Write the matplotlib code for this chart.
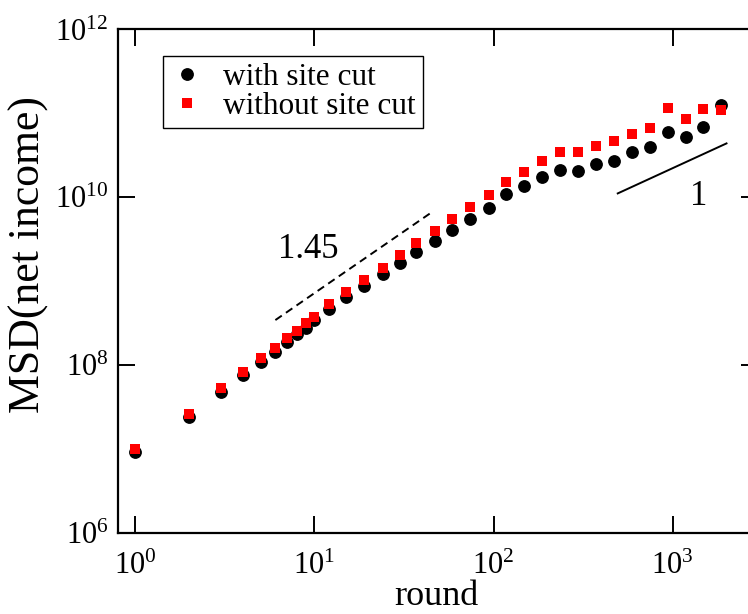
import matplotlib
matplotlib.use("Agg")
import matplotlib.pyplot as plt
from matplotlib.ticker import FixedLocator, LogFormatterMathtext, NullLocator

# serif, Times-like look
plt.rcParams['font.family'] = ['Liberation Serif', 'DejaVu Serif']
plt.rcParams['mathtext.fontset'] = 'custom'
plt.rcParams['mathtext.rm'] = 'Liberation Serif'
plt.rcParams['mathtext.it'] = 'Liberation Serif:italic'

# rounds (log-binned)
rounds = [1, 2, 3, 4, 5, 6, 7, 8, 9, 10, 12, 15, 19, 24, 30, 37, 47, 59, 74, 94,
          118, 148, 187, 235, 296, 373, 470, 592, 745, 938, 1182, 1488, 1874]

# MSD of net income, with site cut
msd_cut = [9.2e6, 2.42e7, 4.8e7, 7.6e7, 1.09e8, 1.44e8, 1.86e8, 2.32e8, 2.77e8, 3.43e8,
           4.6e8, 6.5e8, 8.7e8, 1.2e9, 1.65e9, 2.23e9, 3.0e9, 4.06e9, 5.5e9, 7.35e9,
           1.09e10, 1.37e10, 1.75e10, 2.14e10, 2.08e10, 2.48e10, 2.72e10, 3.48e10, 3.99e10,
           6.03e10, 5.25e10, 6.8e10, 1.25e11]

# MSD of net income, without site cut
msd_nocut = [9.9e6, 2.6e7, 5.35e7, 8.3e7, 1.2e8, 1.58e8, 2.07e8, 2.56e8, 3.13e8, 3.75e8,
             5.32e8, 7.33e8, 1.03e9, 1.45e9, 2.04e9, 2.86e9, 3.97e9, 5.48e9, 7.69e9, 1.06e10,
             1.53e10, 2.01e10, 2.72e10, 3.48e10, 3.48e10, 4.06e10, 4.67e10, 5.75e10, 6.61e10,
             1.16e11, 8.45e10, 1.12e11, 1.11e11]

# guide lines (slope 1.45 and slope 1)
guide145_x = [6.05, 44.2]
guide145_y = [3.43e8, 6.41e9]
guide1_x = [494, 2000]
guide1_y = [1.11e10, 4.38e10]

# tick positions
xticks = [1, 10, 100, 1000]
yticks = [1e6, 1e8, 1e10, 1e12]

fig = plt.figure(figsize=(7.48, 6.14), dpi=100)
ax = fig.add_axes([0.1578, 0.1324, 0.8556, 0.8196])

ax.plot(rounds, msd_cut, 'o', color='black', markersize=8.2, label='with site cut')
ax.plot(rounds, msd_nocut, 's', color='red', markersize=7.8, markeredgewidth=0,
        label='without site cut')

ax.plot(guide145_x, guide145_y, color='black', lw=1.4, linestyle=(0, (4, 2.6)))
ax.plot(guide1_x, guide1_y, color='black', lw=1.4)
ax.text(9.24, 1.87e9, '1.45', fontsize=25, ha='center', va='baseline')
ax.text(1393, 8.05e9, '1', fontsize=25, ha='center', va='baseline')

ax.set_xscale('log')
ax.set_yscale('log')
ax.set_xlim(0.8, 3000)
ax.set_ylim(1e6, 1e12)

ax.xaxis.set_major_locator(FixedLocator(xticks))
ax.yaxis.set_major_locator(FixedLocator(yticks))
ax.xaxis.set_minor_locator(NullLocator())
ax.yaxis.set_minor_locator(NullLocator())
ax.xaxis.set_major_formatter(LogFormatterMathtext())
ax.yaxis.set_major_formatter(LogFormatterMathtext())
ax.tick_params(which='major', direction='in', length=12, width=1.4,
               top=True, right=True, labelsize=22)
ax.tick_params(axis='x', pad=14)
ax.tick_params(axis='y', pad=7)
for sp in ax.spines.values():
    sp.set_linewidth(1.6)

ax.set_xlabel('round', fontsize=26)
ax.xaxis.label.set_va('baseline')
ax.xaxis.set_label_coords(0.497, -0.144)
ax.set_ylabel('MSD(net income)', fontsize=31.5)
ax.yaxis.label.set_va('center')
ax.yaxis.set_label_coords(-0.139, 0.553)

leg = ax.legend(loc='upper left', bbox_to_anchor=(0.0703, 0.947), borderaxespad=0,
                fontsize=22.5, frameon=True, fancybox=False, edgecolor='black',
                framealpha=1, borderpad=0.22, handlelength=1.1, handletextpad=0.6,
                labelspacing=0.0, markerscale=1.0)
leg.get_frame().set_linewidth(1.0)

fig.savefig('out.png', dpi=100)
